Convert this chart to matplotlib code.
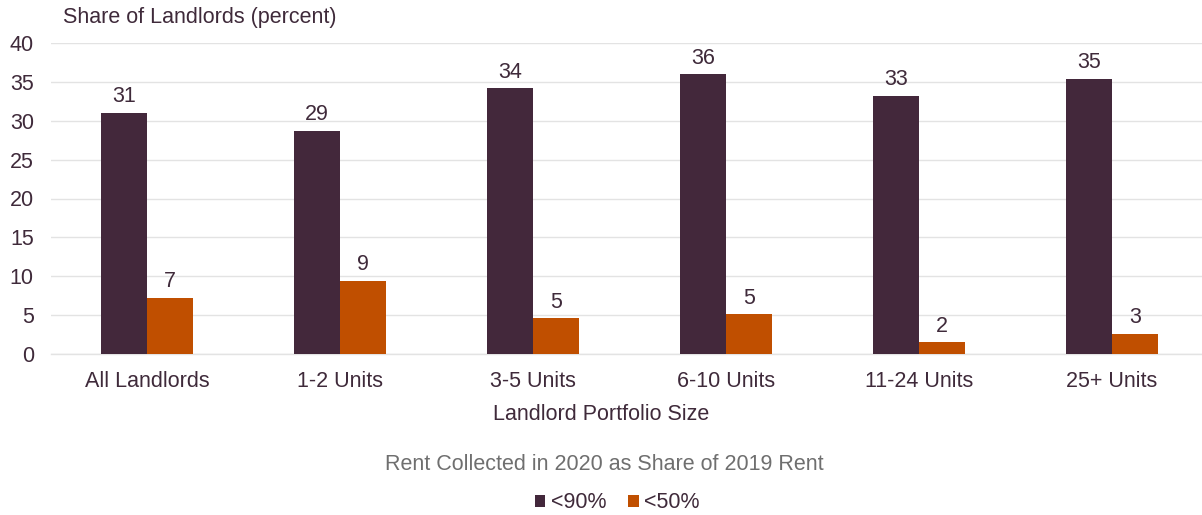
import matplotlib.pyplot as plt
import numpy as np

plt.rcParams['font.family'] = ['Liberation Sans', 'DejaVu Sans']

# ------------------------------------------------------------
# Data
# ------------------------------------------------------------

categories = ['All Landlords', '1-2 Units', '3-5 Units', '6-10 Units', '11-24 Units', '25+ Units']
below_90 = [31.0, 28.7, 34.2, 36.0, 33.2, 35.4]
below_50 = [7.2, 9.4, 4.6, 5.1, 1.5, 2.6]
series_labels = ['<90%', '<50%']
yticks = [0, 5, 10, 15, 20, 25, 30, 35, 40]

# ------------------------------------------------------------
# Style
# ------------------------------------------------------------

purple = '#43283b'
orange = '#c04f00'
text_col = '#3f2a3a'
grid_col = '#e3e3e3'
fs = 15.5

fig = plt.figure(figsize=(12.02, 5.15), dpi=100)
ax = fig.add_axes([50.5 / 1202, 161 / 515, 1 - 50.5 / 1202, 311 / 515])

x = np.arange(len(categories))
w = 0.238
b1 = ax.bar(x - w / 2, below_90, width=w, color=purple, label=series_labels[0], zorder=3)
b2 = ax.bar(x + w / 2, below_50, width=w, color=orange, label=series_labels[1], zorder=3)

for bars, vals in [(b1, below_90), (b2, below_50)]:
    for rect, v in zip(bars, vals):
        ax.annotate(f'{v:.0f}', (rect.get_x() + rect.get_width() / 2, v),
                    xytext=(0, 4), textcoords='offset points',
                    ha='center', va='bottom', fontsize=fs, color=text_col)

ax.set_ylim(0, 40)
ax.set_xlim(-0.5, 5.5 - 6.5 / 193)
ax.set_yticks(yticks)
ax.set_xticks(x)
ax.set_xticklabels(categories)
ax.yaxis.grid(True, color=grid_col, linewidth=1, zorder=0)
ax.set_axisbelow(True)
for s in ['top', 'right', 'left']:
    ax.spines[s].set_visible(False)
ax.spines['bottom'].set_color(grid_col)
ax.spines['bottom'].set_linewidth(1)
ax.tick_params(axis='both', length=0, labelsize=fs, colors=text_col)
ax.tick_params(axis='y', pad=12)
ax.tick_params(axis='x', pad=12)

fig.text(63 / 1202, 1 - 18 / 515, 'Share of Landlords (percent)', fontsize=fs,
         color=text_col, ha='left', va='center')
fig.text(0.5, 1 - 415 / 515, 'Landlord Portfolio Size', fontsize=fs,
         color=text_col, ha='center', va='center')
fig.text(0.503, 1 - 465 / 515, 'Rent Collected in 2020 as Share of 2019 Rent', fontsize=fs,
         color='#6f6f6f', ha='center', va='center')

leg = fig.legend(handles=[b1, b2], labels=series_labels, loc='center',
                 bbox_to_anchor=(617 / 1202, 1 - 503 / 515), ncol=2, frameon=False,
                 fontsize=fs, handlelength=0.5, handleheight=0.5,
                 handletextpad=0.25, columnspacing=1.0)
for t in leg.get_texts():
    t.set_color(text_col)

plt.savefig('out.png', dpi=100)
